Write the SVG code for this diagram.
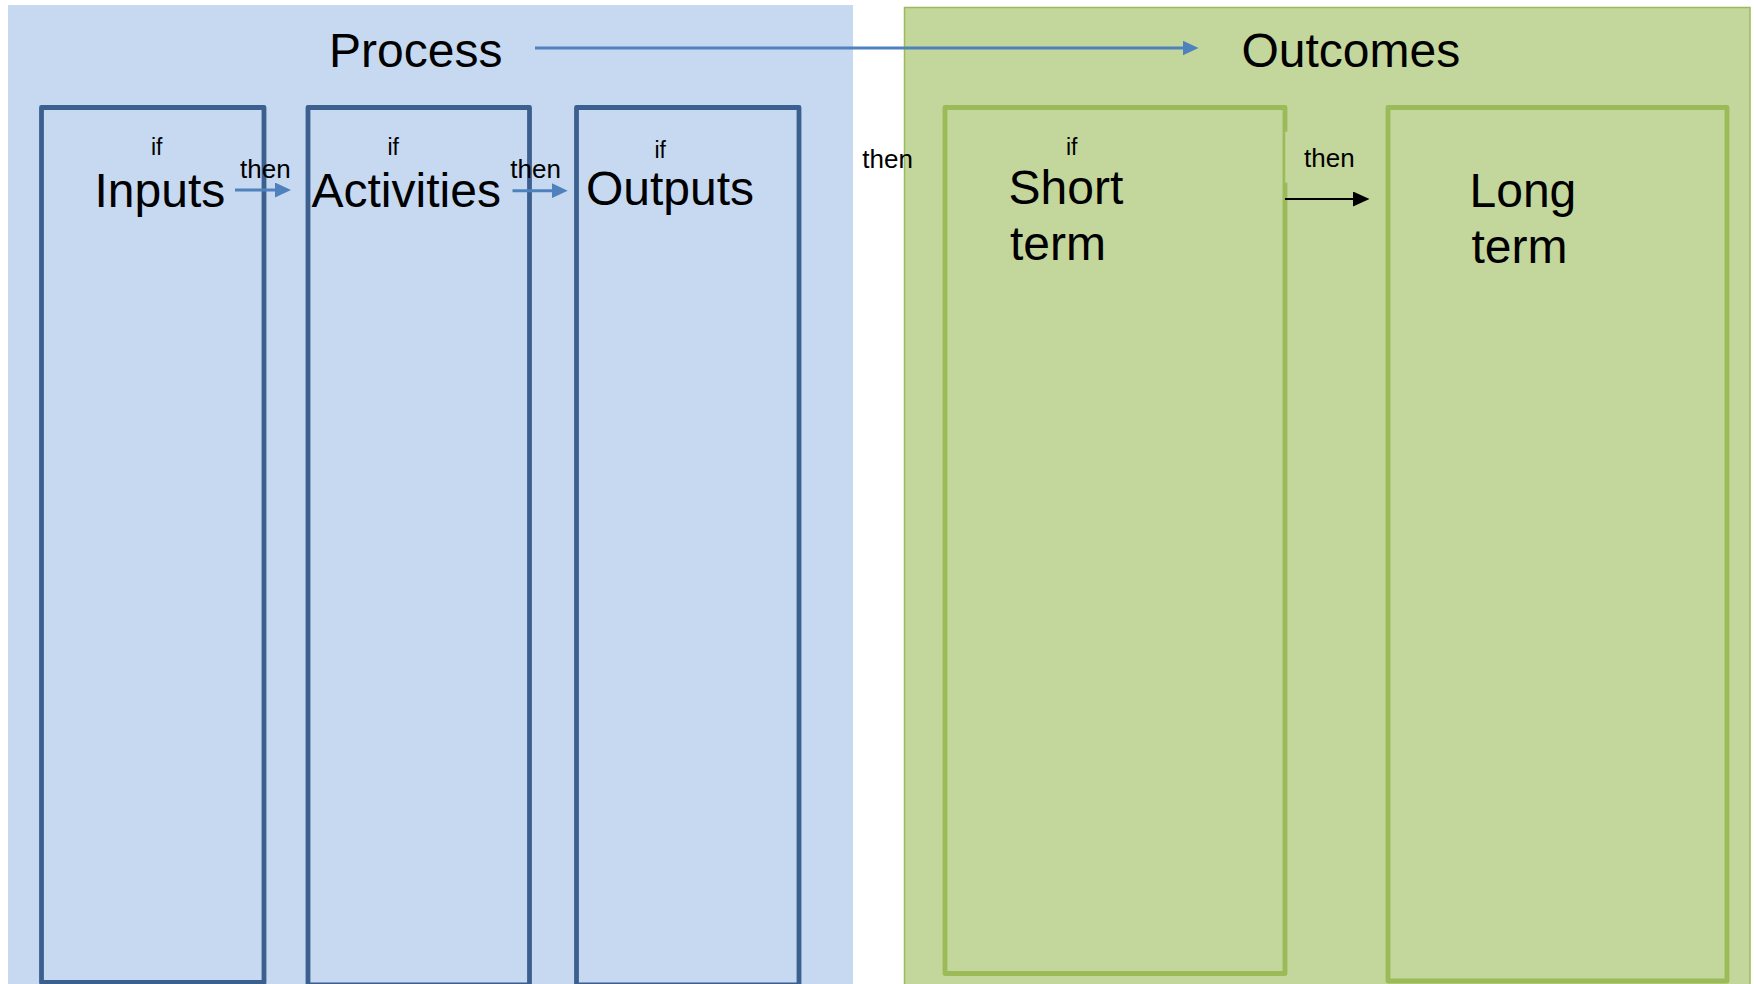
<svg xmlns="http://www.w3.org/2000/svg" width="1754" height="984" viewBox="0 0 1754 984">
  <style>
    .txt { font-family: "Liberation Sans", Arial, sans-serif; fill: #000000; }
    .big { font-size: 48px; }
    .if { font-size: 23px; }
    .then { font-size: 26px; }
    .bg-blue { fill: #C6D9F0; }
    .bg-green { fill: #C3D69B; stroke: #9BBB59; stroke-width: 1.5; }
    .box-blue { fill: none; stroke: #3B5F8E; stroke-width: 4.8; stroke-linejoin: round; }
    .box-green { fill: none; stroke: #9BBB59; stroke-width: 4.8; stroke-linejoin: round; }
    .conn-blue { stroke: #4F81BD; stroke-width: 3; fill: none; }
    .conn-black { stroke: #000000; stroke-width: 2.2; fill: none; }
  </style>
  <defs>
    <marker id="head-blue" markerUnits="userSpaceOnUse" markerWidth="16" markerHeight="15" refX="2" refY="7.5" orient="auto">
      <path d="M0,0 L16,7.5 L0,15 Z" fill="#4F81BD"/>
    </marker>
    <marker id="head-black" markerUnits="userSpaceOnUse" markerWidth="17" markerHeight="15" refX="2" refY="7.5" orient="auto">
      <path d="M0,0 L16.5,7.5 L0,15 Z" fill="#000000"/>
    </marker>
  </defs>

  <rect width="1754" height="984" fill="#FFFFFF"/>

  <!-- Process panel -->
  <g id="process">
    <rect class="bg-blue" x="8" y="5" width="845" height="985"/>
    <text class="txt big" x="329" y="66.5">Process</text>
  </g>

  <!-- Outcomes panel -->
  <g id="outcomes">
    <rect class="bg-green" x="904.5" y="7.5" width="845.5" height="985"/>
    <text class="txt big" x="1241.5" y="66.5">Outcomes</text>
  </g>

  <!-- Process columns -->
  <g id="inputs">
    <rect class="box-blue" x="41.5" y="107.5" width="222.5" height="875"/>
    <text class="txt if" x="151" y="155">if</text>
    <text class="txt big" x="94.5" y="206.5">Inputs</text>
  </g>
  <g id="activities">
    <rect class="box-blue" x="308" y="107.5" width="221.5" height="877.5"/>
    <text class="txt if" x="387.5" y="155">if</text>
    <text class="txt big" x="311.5" y="206.5">Activities</text>
  </g>
  <g id="outputs">
    <rect class="box-blue" x="576.5" y="107.5" width="222.5" height="877.5"/>
    <text class="txt if" x="654.5" y="158">if</text>
    <text class="txt big" x="586" y="205">Outputs</text>
  </g>

  <!-- Outcome columns -->
  <g id="short-term">
    <rect class="box-green" x="945" y="107.5" width="340" height="866"/>
    <!-- label backing that covers part of the right border -->
    <rect x="1285.2" y="131.7" width="4" height="51" fill="#C3D69B"/>
    <text class="txt if" x="1066" y="155">if</text>
    <text class="txt big" x="1008.5" y="204">Short</text>
    <text class="txt big" x="1010" y="260">term</text>
  </g>
  <g id="long-term">
    <rect class="box-green" x="1388" y="107.5" width="339" height="873.5"/>
    <text class="txt big" x="1469.5" y="207">Long</text>
    <text class="txt big" x="1471.5" y="263">term</text>
  </g>

  <!-- Connectors and their labels -->
  <g id="connectors">
    <line class="conn-blue" x1="535" y1="48" x2="1184.5" y2="48" marker-end="url(#head-blue)"/>
    <line class="conn-blue" x1="235" y1="190" x2="277" y2="190" marker-end="url(#head-blue)"/>
    <line class="conn-blue" x1="512.5" y1="190.7" x2="553.7" y2="190.7" marker-end="url(#head-blue)"/>
    <line class="conn-black" x1="1285" y1="199" x2="1355" y2="199" marker-end="url(#head-black)"/>
    <text class="txt then" x="240" y="177.7">then</text>
    <text class="txt then" x="510.3" y="178.2">then</text>
    <text class="txt then" x="862.3" y="168">then</text>
    <text class="txt then" x="1304" y="166.7">then</text>
  </g>
</svg>
